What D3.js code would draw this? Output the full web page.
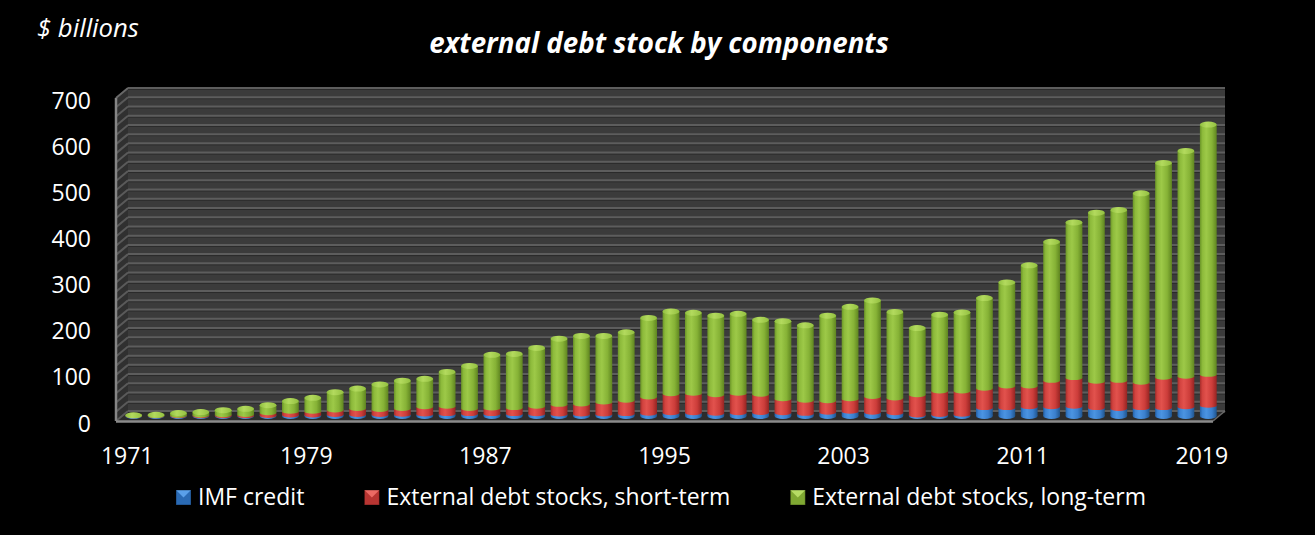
<!DOCTYPE html>
<html><head><meta charset="utf-8">
<script src="https://cdn.jsdelivr.net/npm/d3@7"></script>
<style>html,body{margin:0;padding:0;background:#000;} svg{display:block;}</style>
</head><body>
<svg id="chart" width="1315" height="535"></svg>
<script>
// ---------------- DATA ----------------
const years = [1971,1972,1973,1974,1975,1976,1977,1978,1979,1980,1981,1982,1983,1984,1985,1986,1987,1988,1989,1990,
  1991,1992,1993,1994,1995,1996,1997,1998,1999,2000,2001,2002,2003,2004,2005,2006,2007,2008,2009,2010,
  2011,2012,2013,2014,2015,2016,2017,2018,2019];
const imfCredit = [0.5,0.5,0.5,0.5,0.5,0.5,1,2,2,3,3,3,3.5,4,5,5,5,5,4.5,4,
  4,4,5,6,7,7,6,7,7.5,7,5.5,8,10,8,7,2,3,3.5,18,18,
  20,20,21,18,16,18,18,20,23];
const shortTerm = [0.5,0.5,1,1.5,2,2.5,6,8,8,10,13,11,12.5,16,16,11,12,13,16.5,21,
  22,26,29,35,41,42,40,42,39.5,30,28.5,25,27,34,32,44,51,50.5,42,47,
  45,57,62,57,61,55,66,66,67];
const longTerm = [7,8,11.5,13,16.5,19,23,29,36,45,50,61,67,67,81,99,122,123,133,149,
  154,150,154,178,185,181,178,179,168,175,169,191,206,215,193,151,172,177,202,231,
  268,307,343,372,376,416,471,495,548];
const yTickValues = [0,100,200,300,400,500,600,700];
const xTickLabels = ["1971","1979","1987","1995","2003","2011","2019"];
const seriesNames = ["IMF credit","External debt stocks, short-term","External debt stocks, long-term"];
const titleText = "external debt stock by components";
const unitText = "$ billions";

// ---------------- LAYOUT ----------------
const W = 1315, H = 535;
const FX0 = 116, FX1 = 1213, DX = 12, DY = 10;
const svg = d3.select("#chart");
svg.append("rect").attr("width", W).attr("height", H).attr("fill", "#000");

const yFront = d3.scaleLinear().domain([0, 700]).range([421, 98]);
const yBack  = d3.scaleLinear().domain([0, 700]).range([421 - DY, 98 - DY]);
const yBar   = d3.scaleLinear().domain([0, 700]).range([421 - DY/2, 98 - DY/2]);
const x = d3.scaleBand().domain(years).range([FX0, FX1]).paddingInner(0.25).paddingOuter(0.125);
const bw = x.bandwidth();
const gridVals = d3.range(0, 701, 20);

const defs = svg.append("defs");
function hGrad(id, stops) {
  const g = defs.append("linearGradient").attr("id", id).attr("x1", 0).attr("x2", 1).attr("y1", 0).attr("y2", 0);
  stops.forEach(s => g.append("stop").attr("offset", s[0]).attr("stop-color", s[1]));
}
hGrad("gGreen", [[0,"#6a9427"],[0.15,"#8dba3b"],[0.38,"#9dc948"],[0.72,"#86b236"],[1,"#5f8520"]]);
hGrad("gRed",   [[0,"#a52c2a"],[0.15,"#d2433f"],[0.38,"#e2524d"],[0.72,"#cc3d3a"],[1,"#952422"]]);
hGrad("gBlue",  [[0,"#2460a3"],[0.15,"#3b82d2"],[0.38,"#4b94e2"],[0.72,"#3a7fcd"],[1,"#20558e"]]);
hGrad("gCap",   [[0,"#8fbf3f"],[0.4,"#b3da5e"],[1,"#93c040"]]);

// back wall
svg.append("rect").attr("x", FX0 + DX).attr("y", yBack(700)).attr("width", FX1 - FX0)
  .attr("height", yBack(0) - yBack(700)).attr("fill", "#3b3b3b");
// side wall
svg.append("polygon")
  .attr("points", [[FX0, yFront(700)], [FX0 + DX, yBack(700)], [FX0 + DX, yBack(0)], [FX0, yFront(0)]].join(" "))
  .attr("fill", "#303030");
// floor
svg.append("polygon")
  .attr("points", [[FX0, yFront(0)], [FX0 + DX, yBack(0)], [FX1 + DX, yBack(0)], [FX1, yFront(0)]].join(" "))
  .attr("fill", "#2c2c2c");

// back wall gridlines
const grid = svg.append("g");
grid.selectAll("line.gs").data(gridVals).join("line")
  .attr("x1", FX0 + DX).attr("x2", FX1 + DX)
  .attr("y1", d => yBack(d) + 1.5).attr("y2", d => yBack(d) + 1.5)
  .attr("stroke", "#2a2a2a").attr("stroke-width", 1);
grid.selectAll("line.gl").data(gridVals).join("line")
  .attr("x1", FX0 + DX).attr("x2", FX1 + DX)
  .attr("y1", d => yBack(d)).attr("y2", d => yBack(d))
  .attr("stroke", "#5d5d5d").attr("stroke-width", 2);
// side wall gridlines (diagonal)
grid.selectAll("line.sd").data(gridVals).join("line")
  .attr("x1", FX0).attr("y1", d => yFront(d))
  .attr("x2", FX0 + DX).attr("y2", d => yBack(d))
  .attr("stroke", "#5a5a5a").attr("stroke-width", 2);
// axis edges
svg.append("line").attr("x1", FX0).attr("x2", FX0).attr("y1", yFront(700)).attr("y2", yFront(0))
  .attr("stroke", "#858585").attr("stroke-width", 2.5);
svg.append("line").attr("x1", FX0).attr("x2", FX0 + DX).attr("y1", yFront(700)).attr("y2", yBack(700))
  .attr("stroke", "#6a6a6a").attr("stroke-width", 1.5);
svg.append("line").attr("x1", FX0).attr("x2", FX1).attr("y1", yFront(0) + 0.5).attr("y2", yFront(0) + 0.5)
  .attr("stroke", "#8a8a8a").attr("stroke-width", 2.5);
svg.append("line").attr("x1", FX1).attr("x2", FX1 + DX).attr("y1", yFront(0)).attr("y2", yBack(0))
  .attr("stroke", "#6a6a6a").attr("stroke-width", 1.5);

// ---------------- BARS ----------------
const rows = years.map((yr, i) => ({
  year: yr, imf: imfCredit[i], st: shortTerm[i], lt: longTerm[i]
}));
const RY = 3;
const bars = svg.append("g");
rows.forEach(d => {
  const cx = x(d.year) + bw / 2 + 6.5;
  const x0 = cx - bw / 2;
  const b0 = yBar(0), b1 = yBar(d.imf), b2 = yBar(d.imf + d.st), b3 = yBar(d.imf + d.st + d.lt);
  const g = bars.append("g");
  g.append("ellipse").attr("cx", cx).attr("cy", b0).attr("rx", bw / 2).attr("ry", RY).attr("fill", "url(#gBlue)");
  g.append("rect").attr("x", x0).attr("y", b1).attr("width", bw).attr("height", Math.max(0, b0 - b1)).attr("fill", "url(#gBlue)");
  g.append("ellipse").attr("cx", cx).attr("cy", b1).attr("rx", bw / 2).attr("ry", RY * 0.8).attr("fill", "url(#gRed)");
  g.append("rect").attr("x", x0).attr("y", b2).attr("width", bw).attr("height", Math.max(0, b1 - b2)).attr("fill", "url(#gRed)");
  g.append("ellipse").attr("cx", cx).attr("cy", b2).attr("rx", bw / 2).attr("ry", RY * 0.8).attr("fill", "url(#gGreen)");
  const capY = Math.min(b3 + RY, b2);
  g.append("rect").attr("x", x0).attr("y", capY).attr("width", bw).attr("height", Math.max(0, b2 - capY)).attr("fill", "url(#gGreen)");
  g.append("ellipse").attr("cx", cx).attr("cy", capY).attr("rx", bw / 2).attr("ry", RY).attr("fill", "url(#gCap)");
});

// ---------------- TEXT ----------------
const FONT = "'Open Sans', 'Noto Sans', sans-serif";
svg.append("g").selectAll("text").data(yTickValues).join("text")
  .attr("x", 91).attr("y", d => yFront(d) + 1.5)
  .attr("text-anchor", "end").attr("dominant-baseline", "central")
  .attr("fill", "#fff").attr("font-family", FONT).attr("font-size", 23)
  .text(d => d);

svg.append("g").selectAll("text").data(xTickLabels).join("text")
  .attr("x", d => x(+d) + bw / 2).attr("y", 464)
  .attr("text-anchor", "middle")
  .attr("fill", "#fff").attr("font-family", FONT).attr("font-size", 23)
  .text(d => d);

function fitText(sel, targetW, base) {
  let fs = base;
  sel.attr("font-size", fs);
  const w = sel.node().getComputedTextLength();
  if (w > 0) { fs = base * targetW / w; sel.attr("font-size", fs); }
}
const unit = svg.append("text").attr("x", 37).attr("y", 37)
  .attr("fill", "#fff").attr("font-family", FONT).attr("font-style", "italic").text(unitText);
fitText(unit, 102, 22);
const title = svg.append("text").attr("x", 659).attr("y", 53).attr("text-anchor", "middle")
  .attr("fill", "#fff").attr("font-family", FONT).attr("font-style", "italic").attr("font-weight", "bold").text(titleText);
fitText(title, 460, 24);

// legend
const legendFills = [["#2a6ab4", "#5aa0ea"], ["#b83532", "#ec6a64"], ["#7fa832", "#b6dc64"]];
const leg = svg.append("g");
let lx = 176;
seriesNames.forEach((name, i) => {
  const m = leg.append("g");
  m.append("rect").attr("x", lx).attr("y", 490).attr("width", 15).attr("height", 15).attr("fill", legendFills[i][0]);
  m.append("polygon").attr("points", [[lx, 490], [lx + 15, 490], [lx + 7.5, 497.5]].join(" ")).attr("fill", legendFills[i][1]);
  m.append("rect").attr("x", lx).attr("y", 490).attr("width", 15).attr("height", 15)
    .attr("fill", "none").attr("stroke", "rgba(0,0,0,0.35)").attr("stroke-width", 1);
  const t = leg.append("text").attr("x", lx + 22).attr("y", 505)
    .attr("fill", "#fff").attr("font-family", FONT).attr("font-size", 23).text(name);
  lx = lx + 22 + t.node().getComputedTextLength() + 60;
});
</script>
</body></html>
